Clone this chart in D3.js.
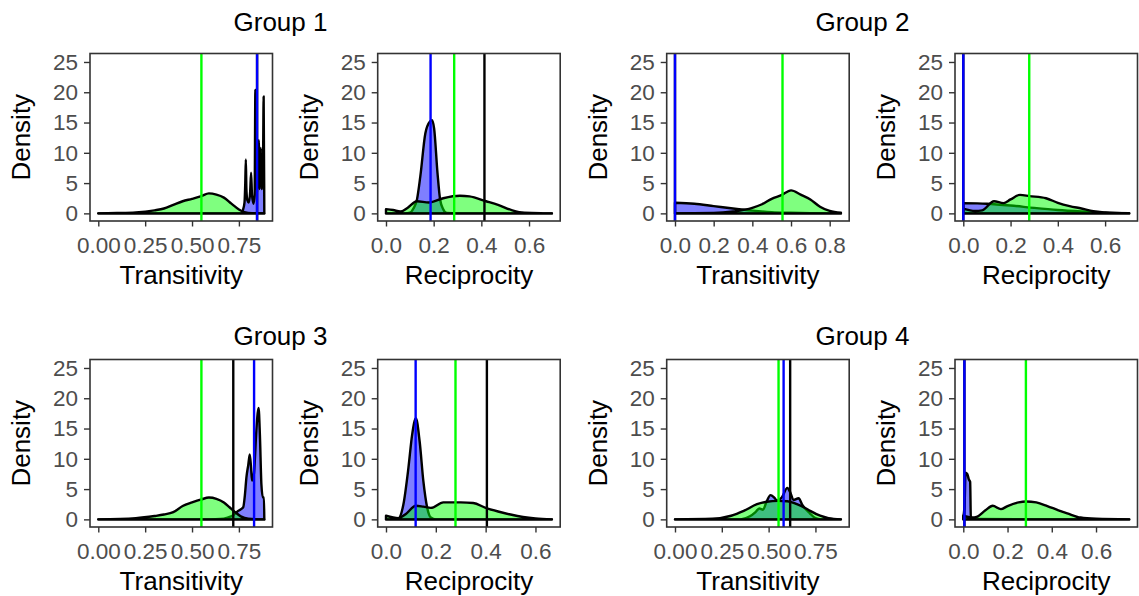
<!DOCTYPE html>
<html>
<head>
<meta charset="utf-8">
<script src="https://cdn.jsdelivr.net/npm/d3@7"></script>
<style>
  body { margin: 0; background: #fff; }
  text { font-family: "Liberation Sans", Arial, sans-serif; }
</style>
</head>
<body>
<script>
// panels in order: G1 trans, G1 recip, G2 trans, G2 recip, G3 trans, G3 recip, G4 trans, G4 recip
var groupTitles = ["Group 1", "Group 2", "Group 3", "Group 4"];
var metrics = ["Transitivity", "Reciprocity"];
var yTicks = [0, 5, 10, 15, 20, 25];
var ticksTrans4 = [0, 0.25, 0.5, 0.75];
var ticksTrans5 = [0, 0.2, 0.4, 0.6, 0.8];
var ticksRecip = [0, 0.2, 0.4, 0.6];
var xTickSets = [ticksTrans4, ticksRecip, ticksTrans5, ticksRecip, ticksTrans4, ticksRecip, ticksTrans4, ticksRecip];
var xTickFormats = [".2f", ".1f", ".1f", ".1f", ".2f", ".1f", ".2f", ".1f"];
var xMax = [0.885, 0.696, 0.858, 0.702, 0.885, 0.666, 0.886, 0.75];

var meanBlue  = [0.847, 0.187, 0.0, 0.0, 0.831, 0.119, 0.58, 0.005];
var meanGreen = [0.55, 0.286, 0.556, 0.279, 0.55, 0.279, 0.553, 0.283];
var obsBlack  = [0.847, 0.413, 0.0, 0.0, 0.72, 0.405, 0.615, 0.005];

var g1TransBlue = [[0,0],[0.6,0],[0.76,0],[0.772,0.6],[0.78,1.8],[0.784,5],[0.787,8.9],[0.79,4],[0.795,2.2],[0.803,1.8],[0.81,3.5],[0.815,6.7],[0.82,3],[0.828,1.6],[0.834,3],[0.838,20.4],[0.842,6],[0.848,3.5],[0.852,8],[0.856,12.1],[0.86,4],[0.864,6],[0.867,10.8],[0.871,4],[0.876,5],[0.879,9],[0.882,19.3],[0.885,4],[0.8855,0]];
var g1TransGreen = [[0,0],[0.1,0.05],[0.2,0.15],[0.3,0.5],[0.35,0.8],[0.4,1.4],[0.45,2.0],[0.5,2.4],[0.55,2.85],[0.59,3.3],[0.63,3.1],[0.67,2.6],[0.71,1.6],[0.75,0.65],[0.78,0.2],[0.82,0.03],[0.885,0]];
var g1RecBlue = [[0,0],[0.08,0],[0.1,0.1],[0.115,0.8],[0.13,2.3],[0.144,6.1],[0.165,13.2],[0.185,15.2],[0.193,15.4],[0.202,14],[0.216,6.7],[0.227,2.3],[0.24,0.7],[0.255,0.05],[0.3,0],[0.696,0]];
var g1RecGreen = [[0,0.7],[0.03,0.55],[0.06,0.3],[0.09,0.9],[0.13,2.0],[0.18,1.8],[0.24,2.5],[0.31,2.9],[0.35,2.8],[0.42,2.0],[0.47,1.4],[0.53,0.5],[0.58,0.1],[0.65,0.01],[0.696,0]];
var g2TransBlue = [[0,1.75],[0.1,1.6],[0.2,1.2],[0.3,0.8],[0.4,0.45],[0.5,0.2],[0.6,0.1],[0.7,0.04],[0.858,0]];
var g2TransGreen = [[0,0],[0.2,0.05],[0.3,0.3],[0.4,0.9],[0.45,1.5],[0.5,2.4],[0.55,3.0],[0.6,3.8],[0.65,3.1],[0.7,2.3],[0.75,1.1],[0.8,0.4],[0.858,0.1]];
var g2RecBlue = [[0,1.7],[0.1,1.6],[0.2,1.3],[0.3,0.9],[0.4,0.55],[0.5,0.3],[0.6,0.1],[0.702,0.03]];
var g2RecGreen = [[0,0.8],[0.05,0.4],[0.08,0.5],[0.13,2.0],[0.17,1.7],[0.2,2.3],[0.24,3.05],[0.28,2.85],[0.35,2.5],[0.4,1.75],[0.45,1.2],[0.5,0.8],[0.55,0.35],[0.6,0.15],[0.702,0]];
var g3TransBlue = [[0,0],[0.6,0],[0.65,0.05],[0.69,0.3],[0.72,0.7],[0.746,1.4],[0.773,2.0],[0.782,4],[0.79,6.9],[0.8,9],[0.808,10.7],[0.815,8.5],[0.82,6.4],[0.83,7.5],[0.843,14.6],[0.85,17.5],[0.855,18.4],[0.862,14],[0.87,5.8],[0.878,3.6],[0.884,3.6],[0.8855,0]];
var g3TransGreen = [[0,0],[0.2,0.2],[0.3,0.55],[0.35,0.8],[0.4,1.2],[0.45,2.2],[0.5,2.8],[0.55,3.3],[0.59,3.6],[0.63,3.4],[0.67,2.8],[0.7,2.0],[0.73,1.2],[0.76,0.5],[0.8,0.1],[0.885,0]];
var g3RecBlue = [[0,0],[0.04,0],[0.05,0.1],[0.07,2.5],[0.09,8.5],[0.105,14],[0.12,16.7],[0.135,12.9],[0.15,6.3],[0.165,2.0],[0.18,0.3],[0.2,0],[0.666,0]];
var g3RecGreen = [[0,0.6],[0.05,0.2],[0.08,0.9],[0.12,2.25],[0.15,2.1],[0.18,1.9],[0.23,2.8],[0.3,2.8],[0.35,2.7],[0.4,1.9],[0.45,1.3],[0.5,0.8],[0.55,0.4],[0.6,0.15],[0.666,0]];
var g4TransBlue = [[0,0],[0.35,0],[0.4,0.5],[0.43,1.2],[0.45,1.8],[0.47,1.6],[0.49,3.0],[0.51,4.0],[0.53,3.6],[0.545,3.1],[0.57,3.6],[0.6,5.2],[0.615,4.5],[0.633,3.2],[0.66,3.5],[0.68,2.4],[0.72,1.0],[0.75,0.2],[0.78,0],[0.886,0]];
var g4TransGreen = [[0,0],[0.2,0.1],[0.3,0.6],[0.367,1.4],[0.438,2.5],[0.49,2.9],[0.55,3.05],[0.6,3.0],[0.651,2.5],[0.7,1.8],[0.722,1.4],[0.775,0.6],[0.82,0.2],[0.886,0]];
var g4RecBlue = [[0,0.4],[0.006,2.5],[0.01,7.7],[0.018,7.5],[0.025,6.6],[0.031,6.2],[0.034,0.4],[0.05,0.05],[0.75,0]];
var g4RecGreen = [[0,0.6],[0.04,0.3],[0.06,0.4],[0.1,1.5],[0.133,2.24],[0.17,1.7],[0.2,2.2],[0.25,2.8],[0.283,2.96],[0.33,2.8],[0.38,2.2],[0.43,1.5],[0.47,1.0],[0.53,0.3],[0.6,0.1],[0.75,0]];

var blueSets = [g1TransBlue, g1RecBlue, g2TransBlue, g2RecBlue, g3TransBlue, g3RecBlue, g4TransBlue, g4RecBlue];
var greenSets = [g1TransGreen, g1RecGreen, g2TransGreen, g2RecGreen, g3TransGreen, g3RecGreen, g4TransGreen, g4RecGreen];

// layout
var W = 1139, H = 596;
var colLeft = [90, 377.7, 666.7, 955];
var rowTop = [53.5, 359.5];
var pw = 182.5, ph = 167.5;
var titleX = [280.5, 862.5];
var titleY = [31, 345];

var svg = d3.select("body").append("svg")
    .attr("width", W)
    .attr("height", H);

for (var r = 0; r < 2; r++) {
  for (var h = 0; h < 2; h++) {
    svg.append("text")
      .attr("x", titleX[h])
      .attr("y", titleY[r])
      .attr("text-anchor", "middle")
      .style("font-size", "26px")
      .style("fill", "#000")
      .text(groupTitles[r * 2 + h]);
  }
}

function drawPanel(i) {
  var col = i % 4, row = Math.floor(i / 4);
  var px0 = colLeft[col], py0 = rowTop[row];

  var x = d3.scaleLinear()
      .domain([-0.05 * xMax[i], 1.05 * xMax[i]])
      .range([0, pw]);
  var y = d3.scaleLinear()
      .domain([-1.26, 26.4])
      .range([ph, 0]);

  var g = svg.append("g").attr("transform", "translate(" + px0 + "," + py0 + ")");

  var area = d3.area()
      .x(function(d) { return x(d[0]); })
      .y0(y(0))
      .y1(function(d) { return y(d[1]); })
      .curve(d3.curveMonotoneX);

  g.append("path")
    .datum(blueSets[i])
    .attr("d", area)
    .style("fill", "rgba(0,0,255,0.5)")
    .style("stroke", "#000")
    .style("stroke-width", 2.4)
    .style("stroke-linejoin", "round");

  g.append("path")
    .datum(greenSets[i])
    .attr("d", area)
    .style("fill", "rgba(0,255,0,0.5)")
    .style("stroke", "#000")
    .style("stroke-width", 2.4)
    .style("stroke-linejoin", "round");

  var vlines = [
    {v: obsBlack[i], c: "#000000"},
    {v: meanGreen[i], c: "#00FF00"},
    {v: meanBlue[i], c: "#0000FF"}
  ];
  g.selectAll(".vl")
    .data(vlines)
    .enter()
    .append("line")
    .attr("x1", function(d) { return x(d.v); })
    .attr("x2", function(d) { return x(d.v); })
    .attr("y1", 0)
    .attr("y2", ph)
    .style("stroke", function(d) { return d.c; })
    .style("stroke-width", 2.4);

  g.append("rect")
    .attr("width", pw)
    .attr("height", ph)
    .style("fill", "none")
    .style("stroke", "#333333")
    .style("stroke-width", 1.6);

  var xa = g.append("g")
      .attr("transform", "translate(0," + ph + ")")
      .call(d3.axisBottom(x).tickValues(xTickSets[i]).tickFormat(d3.format(xTickFormats[i])).tickSize(5.5));
  xa.select(".domain").remove();
  xa.selectAll("line").style("stroke", "#333333").style("stroke-width", 1.4);
  xa.selectAll("text")
    .attr("y", 31.5)
    .attr("dy", 0)
    .style("font-size", "22.5px")
    .style("fill", "#4D4D4D");

  var ya = g.append("g")
      .call(d3.axisLeft(y).tickValues(yTicks).tickSize(6).tickPadding(6));
  ya.select(".domain").remove();
  ya.selectAll("line").style("stroke", "#333333").style("stroke-width", 1.4);
  ya.selectAll("text")
    .style("font-size", "22.5px")
    .style("fill", "#4D4D4D");

  g.append("text")
    .attr("x", pw / 2)
    .attr("y", ph + 63)
    .attr("text-anchor", "middle")
    .style("font-size", "26px")
    .style("fill", "#000")
    .text(metrics[col % 2]);

  g.append("text")
    .attr("transform", "translate(-60," + (ph / 2) + ") rotate(-90)")
    .attr("text-anchor", "middle")
    .style("font-size", "26px")
    .style("fill", "#000")
    .text("Density");
}

for (var k = 0; k < 8; k++) drawPanel(k);
</script>
</body>
</html>
